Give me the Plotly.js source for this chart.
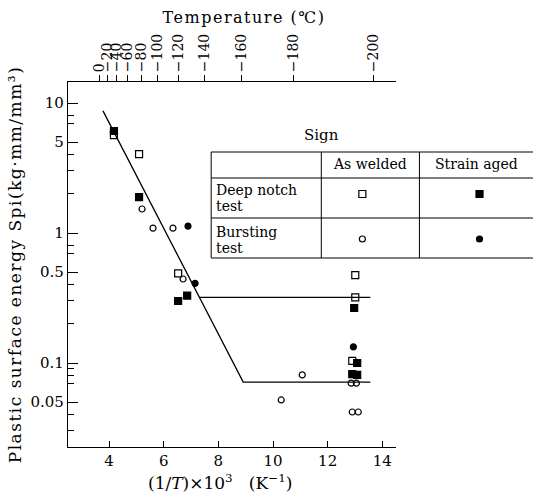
<!DOCTYPE html>
<html>
<head>
<meta charset="utf-8">
<script src="https://cdn.plot.ly/plotly-3.0.1.min.js"></script>
<style>
html,body{margin:0;padding:0;background:#fff;}
#chart{width:533px;height:496px;}
.ytitle{letter-spacing:1.5px;}
.gtitle{letter-spacing:1.5px;}
</style>
</head>
<body>
<div id="chart"></div>
<script>
// ---- data ----
const deepAsWeldedX   = [4.18, 5.10, 6.53, 13.01, 13.01, 12.90];
const deepAsWeldedY   = [5.67, 4.05, 0.49, 0.475, 0.32, 0.104];
const deepAgedX       = [4.18, 5.10, 6.86, 6.53, 12.97, 13.08, 12.90, 13.08];
const deepAgedY       = [6.09, 1.89, 0.33, 0.30, 0.265, 0.100, 0.082, 0.081];
const burstAsWeldedX  = [5.21, 5.61, 6.34, 6.71, 11.07, 10.30, 12.86, 13.05, 12.90, 13.12];
const burstAsWeldedY  = [1.53, 1.09, 1.09, 0.443, 0.081, 0.052, 0.070, 0.070, 0.042, 0.042];
const burstAgedX      = [6.89, 7.15, 12.94];
const burstAgedY      = [1.13, 0.41, 0.133];
const fitLowX  = [3.78, 8.91, 13.56];
const fitLowY  = [8.7, 0.0714, 0.0714];
const fitHighX = [7.30, 13.56];
const fitHighY = [0.32, 0.32];
const xTicks = [4, 6, 8, 10, 12, 14];
const yTicks = [0.05, 0.1, 0.5, 1, 5, 10];
const yTickText = ['0.05', '0.1', '0.5', '1', '5', '10'];
const yMinor = [0.03, 0.04, 0.07, 0.08, 0.09, 0.2, 0.3, 0.4, 0.7, 0.8, 2, 3, 4, 7, 8];
const tempC = [0, -20, -40, -60, -80, -100, -120, -140, -160, -180, -200];

const SERIF = 'DejaVu Serif, Liberation Serif, serif';
const W = 533, H = 496;
const L = 68, R = 395.6, T = 82, B = 447;
const px = v => (v - L) / (R - L);
const py = v => (B - v) / (B - T);

const mk = (x, y, symbol, size) => ({
  x: x, y: y, type: 'scatter', mode: 'markers', cliponaxis: false,
  marker: {symbol: symbol, size: size, color: '#000', line: {color: '#000', width: 1.2}},
  hoverinfo: 'skip', showlegend: false
});
const ln = (x, y) => ({x: x, y: y, type: 'scatter', mode: 'lines',
  line: {color: '#000', width: 1.3}, hoverinfo: 'skip', showlegend: false});

const data = [
  ln(fitLowX, fitLowY),
  ln(fitHighX, fitHighY),
  mk(deepAsWeldedX, deepAsWeldedY, 'square-open', 7),
  mk(deepAgedX, deepAgedY, 'square', 7),
  mk(burstAsWeldedX, burstAsWeldedY, 'circle-open', 6),
  mk(burstAgedX, burstAgedY, 'circle', 6),
  {x: [], y: [], xaxis: 'x2', type: 'scatter', mode: 'markers', showlegend: false, hoverinfo: 'skip'}
];

// table
const tL = 211, tR = 540, tTop = 152, tH = 178, tM = 218, tBot = 258, c1 = 321, c2 = 419;
const line = (x0, y0, x1, y1) => ({type: 'line', xref: 'paper', yref: 'paper',
  x0: px(x0), y0: py(y0), x1: px(x1), y1: py(y1), line: {color: '#000', width: 1}});
const box = (type, cx, cy, r, filled) => ({type: type, xref: 'paper', yref: 'paper',
  x0: px(cx - r), x1: px(cx + r), y0: py(cy + r), y1: py(cy - r),
  line: {color: '#000', width: 1.2}, fillcolor: filled ? '#000' : 'rgba(0,0,0,0)'});
const shapes = [
  line(tL, tTop, tR, tTop), line(tL, tH, tR, tH), line(tL, tM, tR, tM), line(tL, tBot, tR, tBot),
  line(tL, tTop, tL, tBot), line(c1, tTop, c1, tBot), line(c2, tTop, c2, tBot),
  box('rect', 362, 194, 3.5, false), box('rect', 479, 194, 3.5, true),
  box('circle', 362, 239, 3, false), box('circle', 479, 239, 3, true)
];
const ann = (text, x, y, xanchor, size) => ({text: text, xref: 'paper', yref: 'paper',
  x: px(x), y: py(y), xanchor: xanchor || 'center', yanchor: 'middle', showarrow: false,
  font: {family: SERIF, size: size || 14, color: '#000'}});
const annotations = [
  ann('Sign', 321, 135, 'center', 15),
  ann('As welded', 370, 164),
  ann('Strain aged', 476, 164),
  ann('Deep notch', 214, 190, 'left'),
  ann('test', 214, 206, 'left'),
  ann('Bursting', 214, 232, 'left'),
  ann('test', 214, 248, 'left'),
  ann('(1/<i>T</i>)×10<sup>3</sup>   (K<sup>−1</sup>)', 220, 482, 'center', 17)
];

const layout = {
  width: W, height: H,
  margin: {l: L, r: W - R, t: T, b: H - B, pad: 0},
  paper_bgcolor: '#fff', plot_bgcolor: '#fff',
  font: {family: SERIF, size: 15, color: '#000'},
  title: {text: 'Temperature (℃)', x: 244 / W, xanchor: 'center', xref: 'container',
          y: 1 - 17 / H, yanchor: 'middle', yref: 'container',
          font: {family: SERIF, size: 16, color: '#000'}},
  xaxis: {range: [2.5, 14.5], tickvals: xTicks, ticks: 'inside', ticklen: 6, tickcolor: '#000',
          showline: true, linecolor: '#000', linewidth: 1.2, showgrid: false, zeroline: false,
          tickfont: {family: SERIF, size: 15}},
  xaxis2: {range: [2.5, 14.5], overlaying: 'x', side: 'top', anchor: 'y',
           tickvals: tempC.map(t => 1000 / (t + 273.15)),
           ticktext: tempC.map(t => t === 0 ? '0' : '−' + Math.abs(t)),
           tickangle: -90, ticks: 'outside', ticklen: 6, tickcolor: '#000',
           showline: true, linecolor: '#000', linewidth: 1, showgrid: false, zeroline: false,
           tickfont: {family: SERIF, size: 14}},
  yaxis: {type: 'log', range: [-1.646, 1.1615], tickvals: yTicks, ticktext: yTickText,
          ticks: 'inside', ticklen: 10, tickcolor: '#000', showline: true, linecolor: '#000',
          linewidth: 1.2, showgrid: false, zeroline: false, tickfont: {family: SERIF, size: 15},
          minor: {tickvals: yMinor, ticks: 'inside', ticklen: 6, tickcolor: '#000', showgrid: false},
          title: {text: 'Plastic surface energy Spi(kg·mm/mm³)', standoff: 4,
                  font: {family: SERIF, size: 17}}},
  shapes: shapes,
  annotations: annotations
};

Plotly.newPlot('chart', data, layout, {staticPlot: true, displayModeBar: false});
</script>
</body>
</html>
